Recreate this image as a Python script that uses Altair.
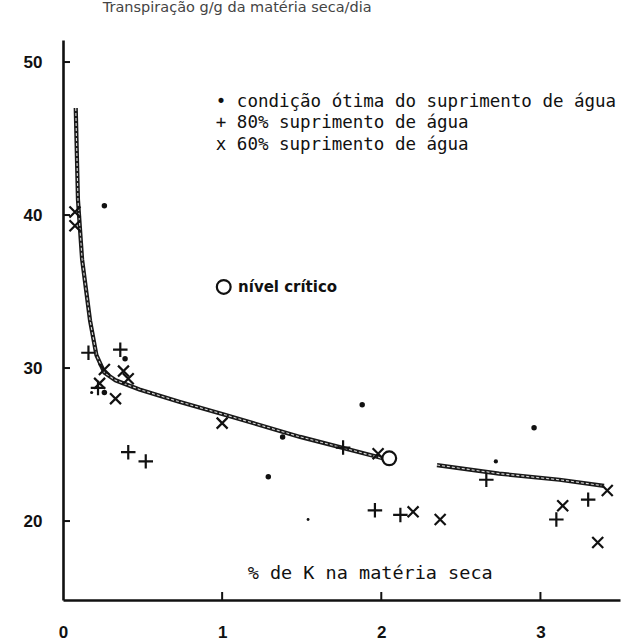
import altair as alt
import pandas as pd

# K content of dry matter (%) and transpiration (g/g dry matter/day)
opt_k = [0.26, 0.39, 0.18, 0.26, 1.38, 1.88, 1.29, 2.96, 2.72, 1.54]
opt_t = [40.6, 30.6, 28.4, 28.4, 25.5, 27.6, 22.9, 26.1, 23.9, 20.1]
opt_sz = [30, 30, 10, 30, 30, 30, 30, 30, 18, 8]

p80_k = [0.16, 0.36, 0.22, 0.41, 0.52, 1.76, 1.96, 2.12, 2.66, 3.10, 3.30]
p80_t = [31.0, 31.2, 28.7, 24.5, 23.9, 24.8, 20.7, 20.4, 22.7, 20.1, 21.4]

p60_k = [0.075, 0.075, 0.26, 0.23, 0.38, 0.41, 0.33, 1.00, 1.98, 2.20, 2.37, 3.14, 3.42, 3.36]
p60_t = [40.2, 39.3, 29.9, 29.0, 29.8, 29.3, 28.0, 26.4, 24.4, 20.6, 20.1, 21.0, 22.0, 18.6]

# fitted response curve, drawn in two pieces around the critical level
curve1_k = [0.08, 0.094, 0.12, 0.17, 0.21, 0.26, 0.33, 0.48, 0.73, 1.00, 1.49, 2.01]
curve1_t = [47.0, 41.0, 37.1, 33.1, 30.85, 29.7, 29.2, 28.6, 27.8, 27.0, 25.5, 24.1]
curve2_k = [2.35, 2.74, 3.12, 3.40]
curve2_t = [23.66, 23.1, 22.7, 22.3]

crit_k = [2.05]
crit_t = [24.1]

x_ticks = [0, 1, 2, 3]
y_ticks = [20, 30, 40, 50]

legend_lines = [
    "• condição ótima do suprimento de água",
    "+ 80% suprimento de água",
    "x 60% suprimento de água",
]
legend_t = [47.4, 46.0, 44.6]

W, H = 557, 560
xs = alt.Scale(domain=[0, 3.5], nice=False, zero=False)
ys = alt.Scale(domain=[14.84, 51.44], nice=False, zero=False)

FONT = "Liberation Sans"
INK = "#111111"

ax_x = alt.Axis(values=x_ticks, ticks=False, grid=False, title=None,
                domainColor=INK, domainWidth=2.6, labelFont=FONT,
                labelFontSize=17, labelFontWeight="bold", labelColor=INK,
                labelPadding=24, labelFlush=False)
ax_y = alt.Axis(values=y_ticks, ticks=False, grid=False, title=None,
                domainColor=INK, domainWidth=2.6, labelFont=FONT,
                labelFontSize=17, labelFontWeight="bold", labelColor=INK,
                labelPadding=21)


def X(field="k"):
    return alt.X(f"{field}:Q", scale=xs, axis=ax_x, title=None)


def Y(field="t"):
    return alt.Y(f"{field}:Q", scale=ys, axis=ax_y, title=None)


def pts(k, t, **extra):
    d = {"k": k, "t": t}
    d.update(extra)
    return pd.DataFrame(d)


# inward tick marks
xt = alt.Chart(pd.DataFrame({"k": x_ticks[1:]})).mark_rule(color=INK, strokeWidth=2).encode(
    x=X(), y=alt.value(H - 8), y2=alt.value(H),
)
yt = alt.Chart(pd.DataFrame({"t": y_ticks})).mark_rule(color=INK, strokeWidth=2).encode(
    y=Y(), x=alt.value(0), x2=alt.value(7),
)


def line(k, t):
    df = pts(k, t)
    outer = alt.Chart(df).mark_line(color="#1a1a1a", strokeWidth=4.2).encode(
        x=X(), y=Y(), order="k:Q")
    inner = alt.Chart(df).mark_line(color="#d8d8d8", strokeWidth=1.1,
                                    strokeDash=[3, 2]).encode(x=X(), y=Y(), order="k:Q")
    return outer + inner


curve = line(curve1_k, curve1_t) + line(curve2_k, curve2_t)

PLUS = "M-1,0L1,0M0,-1L0,1"
CROSS = "M-1,-1L1,1M-1,1L1,-1"

opt = alt.Chart(pts(opt_k, opt_t, s=opt_sz)).mark_point(filled=True, color=INK, opacity=1).encode(
    x=X(), y=Y(), size=alt.Size("s:Q", scale=None, legend=None))
p80 = alt.Chart(pts(p80_k, p80_t)).mark_point(shape=PLUS, filled=False, color=INK,
                                              strokeWidth=2.2, size=210, opacity=1).encode(
    x=X(), y=Y())
p60 = alt.Chart(pts(p60_k, p60_t)).mark_point(shape=CROSS, filled=False, color=INK,
                                              strokeWidth=2.2, size=120, opacity=1).encode(
    x=X(), y=Y())

crit = alt.Chart(pts(crit_k, crit_t)).mark_point(shape="circle", filled=False, fill="white",
                                                 fillOpacity=1, color=INK, strokeWidth=2.2,
                                                 size=190, opacity=1).encode(x=X(), y=Y())

# annotation texts placed in data units
title = alt.Chart(pts([0.25], [53.5], s=["Transpiração g/g da matéria seca/dia"])).mark_text(
    align="left", baseline="middle", font="DejaVu Sans", fontSize=14.5, color="#444444").encode(
    x=X(), y=Y(), text="s:N")

legend = alt.Chart(pts([0.96] * 3, legend_t, s=legend_lines)).mark_text(
    align="left", baseline="middle", font="DejaVu Sans Mono", fontSize=17.5, color=INK).encode(
    x=X(), y=Y(), text="s:N")

crit_key = alt.Chart(pts([1.01], [35.3])).mark_point(shape="circle", filled=False, color=INK,
                                                     strokeWidth=2.2, size=190, opacity=1).encode(
    x=X(), y=Y())
crit_txt = alt.Chart(pts([1.10], [35.3], s=["nível crítico"])).mark_text(
    align="left", baseline="middle", font="DejaVu Sans", fontSize=15, fontWeight="bold",
    color=INK).encode(x=X(), y=Y(), text="s:N")

xtitle = alt.Chart(pts([1.93], [16.6], s=["% de K na matéria seca"])).mark_text(
    align="center", baseline="middle", font="DejaVu Sans Mono", fontSize=18.5, color=INK).encode(
    x=X(), y=Y(), text="s:N")

chart = alt.layer(xt, yt, curve, opt, p80, p60, crit, title, legend,
                  crit_key, crit_txt, xtitle).properties(
    width=W, height=H,
    autosize=alt.AutoSizeParams(type="none"),
    padding={"left": 63, "top": 40, "right": 4, "bottom": 44},
    background="white",
).configure_view(stroke=None)

chart.save("out.html", embed_options={"renderer": "svg", "actions": False})
